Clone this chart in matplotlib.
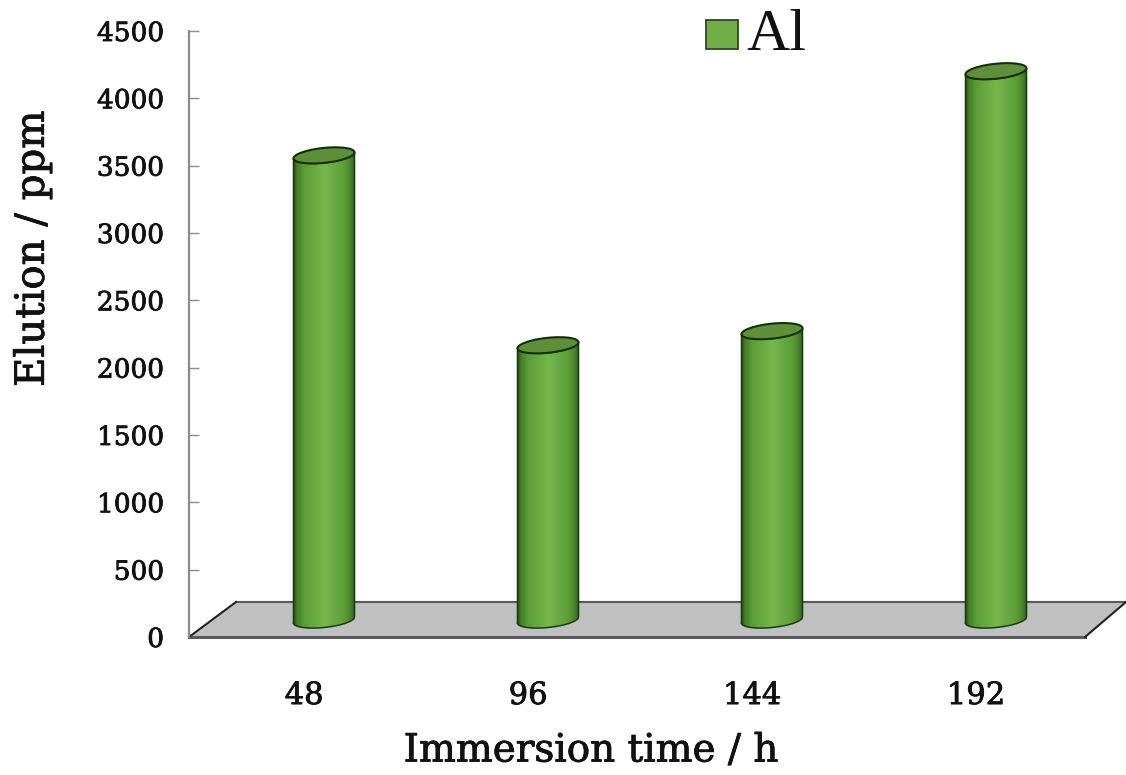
import numpy as np
import matplotlib
matplotlib.use('Agg')
import matplotlib.pyplot as plt
import matplotlib.patheffects as pe
from matplotlib.colors import LinearSegmentedColormap
from matplotlib.patches import Polygon, Rectangle

# elution of Al per immersion time
times = ['48', '96', '144', '192']
elution = [3450, 2040, 2145, 4075]
yticks = [0, 500, 1000, 1500, 2000, 2500, 3000, 3500, 4000, 4500]

W, H = 1126, 775
fig = plt.figure(figsize=(W / 100, H / 100), dpi=100)

# axes run from the left wall to the right edge of the floor
left, right, top, bottom = 189, 1126, 31, 637
ax = fig.add_axes([left / W, 1 - bottom / H, (right - left) / W, (bottom - top) / H])
ax.patch.set_alpha(0)

xstep = 224.0   # px between categories
x0 = 324.0      # px of first category
ax.set_xlim((left - x0) / xstep, (right - x0) / xstep)
ax.set_ylim(0, 4500)
uy = 4500.0 / (bottom - top)   # value units per px
ux = 1 / xstep

# floor of the 3d chart
floor_x = np.array([left, 1085, 1126, 236], dtype=float)
floor_y = np.array([0, 0, 35, 35], dtype=float)
floor = Polygon(np.c_[(floor_x - x0) * ux, floor_y * uy], closed=True,
                facecolor='#c0c0c0', edgecolor='none', zorder=1, clip_on=False)
ax.add_patch(floor)
ax.plot((floor_x[[0, 1]] - x0) * ux, floor_y[[0, 1]] * uy, color='#5a5a5a', lw=2.2, zorder=2, clip_on=False)
ax.plot((floor_x[[3, 2]] - x0) * ux, floor_y[[3, 2]] * uy, color='#5a5a5a', lw=1.5, zorder=2, clip_on=False)
ax.plot((floor_x[[1, 2]] - x0) * ux, floor_y[[1, 2]] * uy, color='#222222', lw=1.5, zorder=2, clip_on=False)
ax.plot((floor_x[[0, 3]] - x0) * ux, floor_y[[0, 3]] * uy, color='#222222', lw=1.5, zorder=2, clip_on=False)

side = LinearSegmentedColormap.from_list('side', [
    (0.0, '#2c5518'), (0.05, '#437d29'), (0.16, '#5c9c38'), (0.5, '#74b84c'),
    (0.84, '#5c9c38'), (0.95, '#437d29'), (1.0, '#2c5518')])
grad = np.linspace(0, 1, 256).reshape(1, -1)

r_px = 30.5     # cylinder half width
ry_px = 7.5     # ellipse half height
tilt = 3.0      # ellipse rise at the right side, px
base_px = 17.0  # height of the value-zero plane above the front floor edge


def ellipse(t, cx, cy_px):
    # tilted ellipse in data coordinates, cy_px is height above the axis in px
    ex = r_px * np.cos(t)
    ey = ry_px * np.sin(t) + tilt * np.cos(t)
    return cx + ex * ux, (cy_px + ey) * uy


t_all = np.linspace(0, 2 * np.pi, 100)
t_low = np.linspace(np.pi, 2 * np.pi, 50)

for i, v in enumerate(elution):
    top_px = base_px + v / uy
    lx, ly = ellipse(t_low, i, base_px)
    ux_top, uy_top = ellipse(t_low[::-1], i, top_px)
    body = Polygon(np.c_[np.r_[lx, ux_top], np.r_[ly, uy_top]], closed=True,
                   facecolor='none', edgecolor='none', zorder=3)
    ax.add_patch(body)
    im = ax.imshow(grad, cmap=side, aspect='auto', zorder=3,
                   extent=[i - r_px * ux, i + r_px * ux, 0, v + 600], interpolation='bilinear')
    im.set_clip_path(body)
    ax.plot(np.r_[lx, ux_top, lx[0]], np.r_[ly, uy_top, ly[0]], color='#1c3a0e', lw=1.1,
            solid_joinstyle='round', zorder=4)
    tx, ty = ellipse(t_all, i, top_px)
    ax.add_patch(Polygon(np.c_[tx, ty], closed=True, facecolor='#5f8f3a',
                         edgecolor='#12300a', lw=1.5, zorder=5))

ax.set_xlim((left - x0) / xstep, (right - x0) / xstep)
ax.set_ylim(0, 4500)

for s in ['top', 'right', 'bottom']:
    ax.spines[s].set_visible(False)
ax.spines['left'].set_color('#8c8c8c')
ax.spines['left'].set_linewidth(1.6)

heavy = [pe.withStroke(linewidth=0.6, foreground='#111111')]

ax.set_yticks(yticks)
ax.set_yticklabels([str(y) for y in yticks], family='DejaVu Serif', fontsize=19, color='#111111',
                   path_effects=heavy)
ax.tick_params(axis='y', direction='in', length=7, width=1, color='#8c8c8c', pad=18)

# category labels sit a little left of the cylinders
ax.set_xticks(np.arange(len(times)) - 20 * ux)
ax.set_xticklabels(times, family='DejaVu Serif', fontsize=22, color='#111111', path_effects=heavy)
ax.tick_params(axis='x', length=0, pad=31)

fig.text(33 / W, 1 - 249 / H, 'Elution / ppm', rotation=90, ha='center', va='center',
         family='DejaVu Serif', fontsize=29, color='#111111', path_effects=heavy)
fig.text(591 / W, 1 - 751 / H, 'Immersion time / h', ha='center', va='center',
         family='DejaVu Serif', fontsize=28, color='#111111', path_effects=heavy)

# legend drawn by hand next to the top of the axis
fig.add_artist(Rectangle((706 / W, 1 - 49 / H), 32 / W, 29 / H, transform=fig.transFigure,
                         facecolor='#70ad47', edgecolor='#2f4a1e', lw=1.3))
fig.text(776 / W, 1 - 36 / H, 'Al', ha='center', va='center', family='Liberation Serif',
         fontsize=43, color='#111111')

fig.savefig('out.png', dpi=100)
